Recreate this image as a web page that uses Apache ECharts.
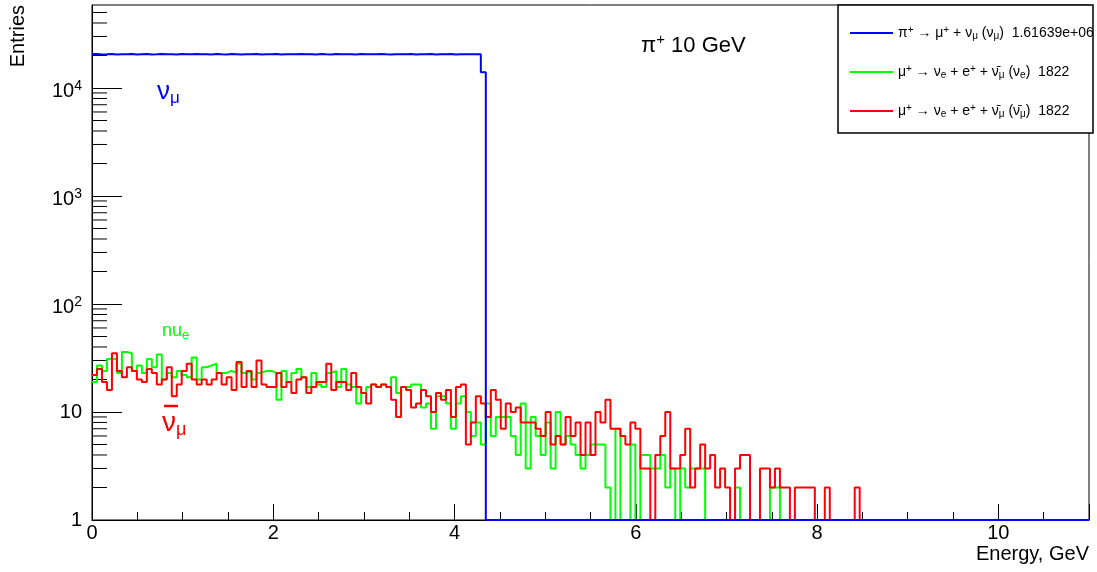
<!DOCTYPE html>
<html><head><meta charset="utf-8">
<script src="https://cdn.jsdelivr.net/npm/echarts@6/dist/echarts.min.js"></script>
<style>html,body{margin:0;padding:0;background:#fff}#c{width:1097px;height:572px}</style>
</head><body><div id="c"></div>
<script>
// ---- binning (200 bins of 0.055 GeV from 0 to 11 GeV) ----
const xMin = 0, xMax = 11, nBins = 200, binWidth = 0.055;
const yMin = 1, yMax = 58700;
const xTickInterval = 2;

// ---- bin contents (bins not listed are empty) ----
const numuCounts = [
  20610, 20480, 20550, 20690, 20420, 20580, 20530, 20640, 20470, 20560,
  20600, 20450, 20520, 20660, 20500, 20570, 20430, 20610, 20540, 20490,
  20650, 20520, 20580, 20460, 20600, 20530, 20480, 20620, 20550, 20440,
  20590, 20510, 20630, 20470, 20560, 20520, 20600, 20450, 20580, 20540,
  20490, 20640, 20510, 20570, 20460, 20600, 20530, 20480, 20620, 20550,
  20500, 20580, 20440, 20610, 20530, 20560, 20490, 20640, 20520, 20470,
  20590, 20550, 20500, 20620, 20460, 20570, 20530, 20600, 20480, 20550,
  20510, 20630, 20470, 20560, 20540, 20590, 20500, 20530, 14000
];
const nueCounts = [
  19, 27, 24, 31, 31, 23, 36, 35, 24, 27,
  23, 31, 26, 34, 20, 23, 21, 24, 22, 21,
  32, 20, 26, 27, 28, 23, 23, 24, 23, 28,
  23, 24, 20, 23, 24, 24, 23, 13, 24, 19,
  23, 25, 21, 17, 23, 18, 17, 23, 24, 17,
  25, 18, 17, 12, 15, 17, 18, 17, 18, 17,
  21, 15, 17, 17, 18, 18, 11, 12, 7, 14,
  14, 12, 7, 12, 14, 10, 6, 8, 5, 12,
  6, 9, 9, 9, 6, 4, 12, 3, 9, 6,
  4, 8, 3, 10, 5, 6, 5, 4, 3, 4,
  5, 5, 5, 2, 0, 7, 0, 0, 5, 0,
  4, 4, 3, 3, 4, 2, 3, 0, 3, 2,
  3, 3, 3, 0, 0, 0, 0, 0, 0, 2,
  0, 0, 0, 0, 0, 0, 2, 2
];
const numubarCounts = [
  22, 25, 19, 16, 35, 24, 21, 26, 24, 20,
  19, 25, 23, 18, 20, 26, 14, 18, 24, 28,
  20, 18, 20, 18, 20, 23, 18, 21, 16, 29,
  17, 24, 17, 30, 18, 17, 17, 23, 17, 19,
  15, 20, 21, 15, 17, 19, 19, 28, 16, 19,
  19, 16, 23, 17, 15, 12, 18, 17, 18, 17,
  13, 9, 17, 16, 11, 12, 16, 14, 10, 15,
  13, 16, 9, 17, 18, 5, 8, 14, 12, 9,
  16, 13, 7, 12, 10, 11, 8, 8, 8, 7,
  6, 10, 5, 6, 5, 9, 6, 8, 4, 8,
  4, 10, 8, 13, 7, 7, 6, 5, 8, 7,
  3, 3, 0, 4, 6, 10, 3, 3, 4, 7,
  2, 3, 5, 3, 4, 2, 3, 2, 0, 3,
  4, 4, 0, 0, 3, 3, 2, 3, 2, 2,
  0, 2, 2, 2, 2, 0, 0, 2, 0, 0,
  0, 0, 0, 2
];

const seriesNames = ['numu', 'nue', 'numubar'];
const seriesColors = {numu: '#0000ff', nue: '#00ff00', numubar: '#ff0000'};
const legendLabels = {
  numu: '{t|π}{sp|+}{t| → μ}{sp|+}{t| + ν}{sb|μ}{t| (ν}{sb|μ}{t|)  1.61639e+06}',
  nue: '{t|μ}{sp|+}{t| → ν}{sb|e}{t| + e}{sp|+}{t| + ν\u0304}{sb|μ}{t| (ν}{sb|e}{t|)  1822}',
  numubar: '{t|μ}{sp|+}{t| → ν}{sb|e}{t| + e}{sp|+}{t| + ν\u0304}{sb|μ}{t| (ν\u0304}{sb|μ}{t|)  1822}'
};

// histogram outline: one point per bin low edge, plus the final upper edge
function stepData(counts) {
  const d = [];
  for (let i = 0; i < nBins; i++) {
    const v = i < counts.length ? counts[i] : 0;
    d.push([+(xMin + i * binWidth).toFixed(4), Math.max(v, yMin)]);
  }
  d.push([xMax, d[d.length - 1][1]]);
  return d;
}

// minor log ticks 2..9 per decade
const minorTickValues = [];
for (let k = 0; k < 5; k++) for (let m = 2; m <= 9; m++) {
  const v = m * Math.pow(10, k);
  if (v < yMax) minorTickValues.push([0, v]);
}

const FONT = 'Liberation Sans';
const chart = echarts.init(document.getElementById('c'), null, {renderer: 'canvas'});

function histSeries(name, counts) {
  return {
    type: 'line', name: name, step: 'end', data: stepData(counts),
    symbol: 'none', showSymbol: false, animation: false, clip: true,
    lineStyle: {color: seriesColors[name], width: 2},
    itemStyle: {color: seriesColors[name]}
  };
}

const option = {
  animation: false,
  backgroundColor: '#fff',
  grid: {left: 92, top: 5, width: 997, height: 515, show: true, borderColor: '#000', borderWidth: 1, backgroundColor: 'transparent', outerBoundsMode: 'none'},
  xAxis: {
    type: 'value', min: xMin, max: xMax, interval: xTickInterval,
    axisLine: {show: true, lineStyle: {color: '#000', width: 1}},
    axisTick: {show: true, inside: true, length: 16, lineStyle: {color: '#000'}},
    minorTick: {show: true, splitNumber: 4, length: 8, lineStyle: {color: '#000'}},
    splitLine: {show: false},
    axisLabel: {color: '#000', fontFamily: FONT, fontSize: 20, margin: 3, showMaxLabel: false},
    name: 'Energy, GeV', nameLocation: 'end', nameGap: 0,
    nameTextStyle: {color: '#000', fontFamily: FONT, fontSize: 20, align: 'right', verticalAlign: 'top', padding: [24, 0, 0, 0]}
  },
  yAxis: {
    type: 'log', logBase: 10, min: yMin, max: yMax,
    axisLine: {show: true, lineStyle: {color: '#000', width: 1}},
    axisTick: {show: true, inside: true, length: 30, lineStyle: {color: '#000'}},
    splitLine: {show: false},
    axisLabel: {
      color: '#000', fontFamily: FONT, fontSize: 20, margin: 10, showMaxLabel: false,
      formatter: function (v) {
        const e = Math.round(Math.log10(v));
        if (Math.abs(Math.pow(10, e) - v) > 1e-6 * v) return '';
        if (e === 0) return '{b|1}';
        if (e === 1) return '{b|10}';
        return '{c|10}{s|' + e + '}';
      },
      rich: {
        b: {fontFamily: FONT, fontSize: 20, lineHeight: 24, color: '#000'},
        c: {fontFamily: FONT, fontSize: 20, lineHeight: 24, padding: [7, 0, 0, 0], color: '#000'},
        s: {fontFamily: FONT, fontSize: 14, lineHeight: 12, padding: [3, 0, 0, 0], verticalAlign: 'top', color: '#000'}
      }
    }
  },
  legend: {
    show: true, data: seriesNames, orient: 'vertical', left: 850, top: 25,
    itemWidth: 43, itemHeight: 2, itemGap: 23, icon: 'rect', padding: 0, z: 12,
    selectedMode: false,
    formatter: function (name) { return legendLabels[name]; },
    textStyle: {
      color: '#000', fontFamily: FONT, fontSize: 14, width: 200, overflow: 'truncate', ellipsis: '',
      rich: {
        t: {fontFamily: FONT, fontSize: 14, lineHeight: 16, color: '#000'},
        sp: {fontFamily: FONT, fontSize: 10, lineHeight: 8, verticalAlign: 'top', color: '#000'},
        sb: {fontFamily: FONT, fontSize: 10, lineHeight: 8, verticalAlign: 'bottom', color: '#000'}
      }
    }
  },
  graphic: [
    {type: 'rect', z: 10, shape: {x: 838, y: 5, width: 255, height: 128}, style: {fill: '#fff', stroke: '#000', lineWidth: 1.5}},
    {type: 'text', z: 10, x: 641, y: 46, style: {
      text: '{a|π}{s|+}{a| 10 GeV}', verticalAlign: 'middle',
      rich: {a: {fontFamily: FONT, fontSize: 22, lineHeight: 28, fill: '#000'}, s: {fontFamily: FONT, fontSize: 15, lineHeight: 14, verticalAlign: 'top', fill: '#000'}}
    }},
    {type: 'text', z: 10, x: 18, y: 5, rotation: Math.PI / 2, style: {
      text: 'Entries', align: 'right', verticalAlign: 'middle', fontFamily: FONT, fontSize: 20, fill: '#000'
    }},
    {type: 'text', z: 10, x: 157, y: 92, style: {
      text: '{a|ν}{b|μ}', verticalAlign: 'middle',
      rich: {a: {fontFamily: FONT, fontSize: 26, lineHeight: 30, fill: '#0000ff'}, b: {fontFamily: FONT, fontSize: 17, lineHeight: 16, verticalAlign: 'bottom', fill: '#0000ff'}}
    }},
    {type: 'text', z: 10, x: 162, y: 331, style: {
      text: '{a|nu}{b|e}', verticalAlign: 'middle',
      rich: {a: {fontFamily: FONT, fontSize: 18, lineHeight: 22, fill: '#00ff00'}, b: {fontFamily: FONT, fontSize: 13, lineHeight: 12, verticalAlign: 'bottom', fill: '#00ff00'}}
    }},
    {type: 'text', z: 10, x: 162, y: 423, style: {
      text: '{a|ν}{b|μ}', verticalAlign: 'middle',
      rich: {a: {fontFamily: FONT, fontSize: 28, lineHeight: 32, fill: '#ff0000'}, b: {fontFamily: FONT, fontSize: 18, lineHeight: 16, verticalAlign: 'bottom', fill: '#ff0000'}}
    }},
    {type: 'line', z: 10, shape: {x1: 164, y1: 406, x2: 178, y2: 406}, style: {stroke: '#ff0000', lineWidth: 2.5}}
  ],
  series: [
    histSeries('nue', nueCounts),
    histSeries('numubar', numubarCounts),
    histSeries('numu', numuCounts),
    {
      type: 'custom', name: 'minorTicks', silent: true, clip: false, animation: false,
      data: minorTickValues, encode: {x: 0, y: 1},
      renderItem: function (params, api) {
        const p = api.coord([api.value(0), api.value(1)]);
        return {type: 'line', shape: {x1: p[0], y1: p[1], x2: p[0] + 15, y2: p[1]}, style: {stroke: '#000', lineWidth: 1}};
      }
    }
  ]
};
chart.setOption(option);
</script>
</body></html>
